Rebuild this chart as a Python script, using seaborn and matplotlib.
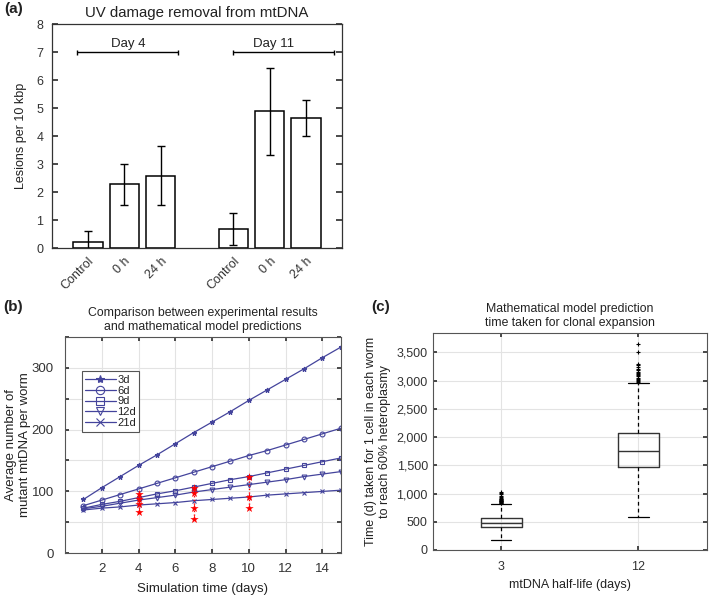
import matplotlib
matplotlib.use("Agg")

import matplotlib.pyplot as plt
import numpy as np
import pandas as pd
import seaborn as sns
from matplotlib.lines import Line2D
from matplotlib.ticker import FuncFormatter, StrMethodFormatter

# ── Panel (a): UV damage removal ────────────────────────────────
conditions = ["Control", "0 h", "24 h"]
day4_lesions = [0.21, 2.29, 2.60]
day4_err = [0.42, 0.73, 1.06]
day11_lesions = [0.69, 4.89, 4.64]
day11_err = [0.57, 1.56, 0.64]

# ── Panel (b): model vs experiment ──────────────────────────────
sim_days = list(range(1, 16))
mut_3d = [87, 106, 124, 142, 159, 177, 195, 212, 229, 247, 264, 281, 298, 316, 333]
mut_6d = [77, 86, 95, 104, 113, 122, 131, 140, 149, 158, 166, 175, 184, 193, 202]
mut_9d = [73, 79, 84, 90, 96, 101, 107, 113, 119, 124, 130, 136, 142, 148, 154]
mut_12d = [72, 76, 81, 86, 90, 94, 99, 103, 107, 111, 115, 119, 124, 128, 132]
mut_21d = [70, 73, 75, 78, 80, 82, 85, 87, 89, 91, 94, 96, 98, 100, 102]
half_lives = ["3d", "6d", "9d", "12d", "21d"]

exp_day = [4, 4, 4, 4, 7, 7, 7, 7, 10, 10, 10]
exp_count = [96, 87, 80, 67, 106, 98, 74, 55, 124, 91, 73]

# ── Panel (c): clonal expansion time (box summary) ──────────────
box_labels = ["3", "12"]
box_whislo = [176, 580]
box_q1 = [400, 1475]
box_med = [482, 1760]
box_q3 = [570, 2070]
box_whishi = [816, 2955]
box_fliers = [
    [828, 836, 844, 852, 860, 868, 876, 884, 892, 900, 910, 922, 936, 955, 985, 1010, 1030],
    [2975, 2995, 3015, 3035, 3055, 3075, 3095, 3115, 3135, 3160, 3185, 3210, 3240,
     3270, 3300, 3505, 3655],
]

sns.set_theme(style="ticks")
plt.rcParams["font.family"] = ["Liberation Sans", "DejaVu Sans"]
plt.rcParams["text.color"] = "#222222"
plt.rcParams["axes.labelcolor"] = "#222222"
plt.rcParams["xtick.color"] = "#333333"
plt.rcParams["ytick.color"] = "#333333"

fig = plt.figure(figsize=(7.09, 5.96), dpi=100)
ax_a = fig.add_axes([0.0729, 0.5834, 0.4099, 0.3758])
ax_b = fig.add_axes([0.0917, 0.0716, 0.3888, 0.3635])
ax_c = fig.add_axes([0.6103, 0.0772, 0.3865, 0.3646])

# ── (a) bars ─────────────────────────────────────────────────────
keys4 = [f"Day 4 {c}" for c in conditions]
keys11 = [f"Day 11 {c}" for c in conditions]
order = keys4 + ["gap"] + keys11
df_a = pd.DataFrame({
    "group": keys4 + keys11,
    "lesions": day4_lesions + day11_lesions,
    "err": day4_err + day11_err,
})
sns.barplot(data=df_a, x="group", y="lesions", order=order, color="white",
            edgecolor="black", linewidth=1.1, width=0.8, errorbar=None, ax=ax_a)
for bar in ax_a.patches:
    bar.set_facecolor("white")
xpos = [order.index(k) for k in df_a["group"]]
ax_a.errorbar(xpos, df_a["lesions"], yerr=df_a["err"], fmt="none",
              ecolor="black", elinewidth=1.0, capsize=3, capthick=1.0)

# day brackets
for (x0, x1, xt, label) in [(-0.31, 2.47, 1.1, "Day 4"), (3.98, 6.77, 5.1, "Day 11")]:
    ax_a.hlines(7, x0, x1, color="black", lw=1.0)
    ax_a.vlines([x0, x1], 6.9, 7.1, color="black", lw=1.0)
    ax_a.text(xt, 7.3, label, ha="center", va="center", fontsize=9.5)

ax_a.set_xlim(-1, 7)
ax_a.set_ylim(0, 8)
ax_a.set_yticks(range(0, 9))
ax_a.set_xticks([order.index(k) for k in keys4 + keys11])
ax_a.set_xticklabels(conditions + conditions, rotation=45, ha="right",
                     rotation_mode="anchor", fontsize=9)
ax_a.tick_params(axis="x", length=0, pad=5)
ax_a.tick_params(axis="y", direction="in", right=True, labelsize=9, length=4, pad=6)
ax_a.set_xlabel("")
ax_a.set_ylabel("Lesions per 10 kbp", fontsize=9, labelpad=7)
ax_a.set_title("UV damage removal from mtDNA", fontsize=10.8, pad=5)
for s in ax_a.spines.values():
    s.set_color("#333333")
    s.set_linewidth(0.9)

# ── (b) lines ────────────────────────────────────────────────────
line_color = "#44449c"
df_b = pd.DataFrame({
    "day": sim_days * 5,
    "count": mut_3d + mut_6d + mut_9d + mut_12d + mut_21d,
    "half_life": np.repeat(half_lives, len(sim_days)),
})
marker_map = {"3d": "*", "6d": "o", "9d": "s", "12d": "v", "21d": "x"}
sns.lineplot(data=df_b, x="day", y="count", hue="half_life", hue_order=half_lives,
             palette={h: line_color for h in half_lives}, linewidth=0.9,
             legend=False, ax=ax_b)

handles = []
for ln, hl in zip(ax_b.lines, half_lives):
    mk = marker_map[hl]
    mfc = line_color if mk in ("*", "x") else "none"
    ln.set_marker(mk)
    ln.set_markersize(3.5)
    ln.set_markeredgecolor(line_color)
    ln.set_markerfacecolor(mfc)
    ln.set_markeredgewidth(0.8)
    handles.append(Line2D([], [], color=line_color, lw=0.9, marker=mk, markersize=6,
                          markeredgecolor=line_color, markerfacecolor=mfc,
                          markeredgewidth=0.8))
leg = ax_b.legend(handles, half_lives, loc="upper left", bbox_to_anchor=(0.06, 0.84),
                  borderaxespad=0, fontsize=8, handlelength=2.8, handletextpad=0.1,
                  labelspacing=0.08, borderpad=0.3, fancybox=False,
                  framealpha=1, edgecolor="#555555")
leg.get_frame().set_linewidth(0.8)

# experimental points
df_exp = pd.DataFrame({"day": exp_day, "count": exp_count})
rng = df_exp.groupby("day")["count"].agg(["min", "max"])
ax_b.vlines(rng.index, rng["min"], rng["max"], color="red", linestyle=":", lw=1.0, zorder=4)
sns.scatterplot(data=df_exp, x="day", y="count", marker="*", color="red", s=40,
                linewidth=0, zorder=5, ax=ax_b, legend=False)

ax_b.set_xlim(0, 15)
ax_b.set_ylim(0, 350)
ax_b.set_xticks(range(2, 15, 2))
ax_b.set_yticks(range(0, 351, 50))
ax_b.yaxis.set_major_formatter(FuncFormatter(lambda v, p: f"{int(v)}" if v % 100 == 0 else ""))
ax_b.grid(True, color="#e3e3e3", lw=0.8)
ax_b.set_axisbelow(True)
ax_b.tick_params(direction="in", top=True, right=True, labelsize=9.5, length=3)
ax_b.tick_params(axis="y", pad=8)
ax_b.tick_params(axis="x", pad=7)
ax_b.set_xlabel("Simulation time (days)", fontsize=9.5, labelpad=6)
ax_b.set_ylabel("Average number of\nmutant mtDNA per worm", fontsize=9.5)
ax_b.yaxis.set_label_coords(-0.125, 0.5)
ax_b.set_title("Comparison between experimental results\nand mathematical model predictions",
               fontsize=8.8, pad=5)
for s in ax_b.spines.values():
    s.set_color("#555555")
    s.set_linewidth(0.8)

# ── (c) boxes ────────────────────────────────────────────────────
stats = [
    {"label": box_labels[i], "whislo": box_whislo[i], "q1": box_q1[i], "med": box_med[i],
     "q3": box_q3[i], "whishi": box_whishi[i], "fliers": box_fliers[i]}
    for i in range(len(box_labels))
]
ax_c.bxp(stats, positions=[1, 2], widths=0.3, showfliers=True,
         boxprops=dict(color="#333333", lw=1.0),
         medianprops=dict(color="#333333", lw=1.0),
         whiskerprops=dict(color="black", lw=0.9, linestyle=(0, (3, 2.5))),
         capprops=dict(color="black", lw=0.9),
         flierprops=dict(marker="+", markersize=3.5, markeredgecolor="black",
                         markeredgewidth=0.8))
ax_c.set_xlim(0.5, 2.5)
ax_c.set_ylim(0, 3850)
ax_c.set_xticks([1, 2])
ax_c.set_xticklabels(box_labels)
ax_c.set_yticks(range(0, 3501, 500))
ax_c.yaxis.set_major_formatter(StrMethodFormatter("{x:,.0f}"))
ax_c.grid(True, color="#e3e3e3", lw=0.8)
ax_c.set_axisbelow(True)
ax_c.tick_params(direction="in", top=True, right=True, labelsize=9, length=3)
ax_c.tick_params(axis="x", pad=8)
ax_c.set_xlabel("mtDNA half-life (days)", fontsize=9, labelpad=4)
ax_c.set_ylabel("Time (d) taken for 1 cell in each worm\nto reach 60% heteroplasmy",
                fontsize=9, labelpad=4)
ax_c.set_title("Mathematical model prediction\ntime taken for clonal expansion",
               fontsize=8.8, pad=5)
for s in ax_c.spines.values():
    s.set_color("#555555")
    s.set_linewidth(0.8)

# panel letters
fig.text(0.006, 0.997, "(a)", fontsize=11, fontweight="bold", va="top")
fig.text(0.004, 0.497, "(b)", fontsize=11, fontweight="bold", va="top")
fig.text(0.523, 0.497, "(c)", fontsize=11, fontweight="bold", va="top")

fig.savefig("out.png", dpi=100)
plt.close(fig)
